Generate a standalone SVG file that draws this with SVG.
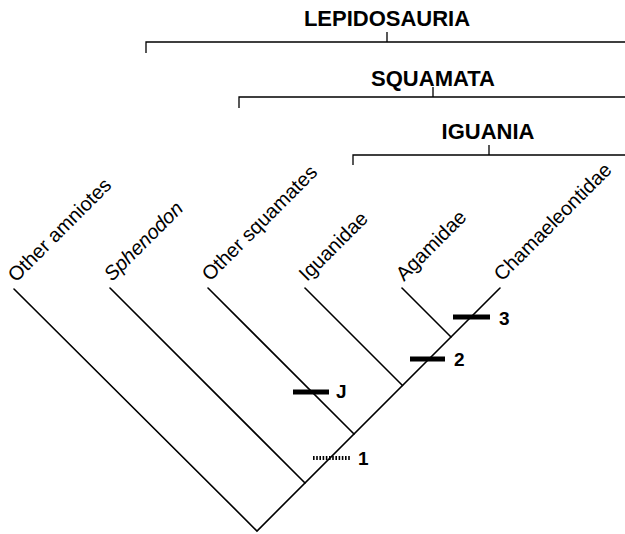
<svg xmlns="http://www.w3.org/2000/svg" width="625" height="534" viewBox="0 0 625 534">
<style>
.ln{stroke:#000;stroke-width:1.6;fill:none;stroke-linecap:round}
.br{stroke:#000;stroke-width:1.3;fill:none}
.bar{stroke:#000;stroke-width:5;fill:none}
.dot{stroke:#000;stroke-width:4;fill:none;stroke-dasharray:1.6 1.6}
.tip{font-family:"Liberation Sans",Arial,sans-serif;font-size:20px;fill:#000}
.hd{font-family:"Liberation Sans",Arial,sans-serif;font-size:22px;font-weight:bold;fill:#000;text-anchor:middle}
.num{font-family:"Liberation Sans",Arial,sans-serif;font-size:19px;font-weight:bold;fill:#000}
</style>
<rect width="625" height="534" fill="#fff"/>
<g id="brackets">
  <g id="lepidosauria">
    <path class="br" d="M146,53 V42 H625 M387,32 V42"/>
    <text class="hd" x="387" y="26">LEPIDOSAURIA</text>
  </g>
  <g id="squamata">
    <path class="br" d="M239,108 V97 H625 M433,87 V97"/>
    <text class="hd" x="433" y="86">SQUAMATA</text>
  </g>
  <g id="iguania">
    <path class="br" d="M353,165 V155 H625 M489,145 V155"/>
    <text class="hd" x="488" y="139">IGUANIA</text>
  </g>
</g>
<g id="connectors">
  <path class="ln" d="M14,289 L257,531 L500,288"/>
  <path class="ln" d="M110,288 L305,483"/>
  <path class="ln" d="M208,288 L354,434"/>
  <path class="ln" d="M305,288 L402.5,385.5"/>
  <path class="ln" d="M402,288 L451,337"/>
</g>
<g id="tips">
  <g id="other-amniotes"><text class="tip" transform="translate(16,283) rotate(-45)">Other amniotes</text></g>
  <g id="sphenodon"><text class="tip" font-style="italic" transform="translate(112,282) rotate(-45)">Sphenodon</text></g>
  <g id="other-squamates"><text class="tip" transform="translate(210,282) rotate(-45)">Other squamates</text></g>
  <g id="iguanidae"><text class="tip" transform="translate(307,282) rotate(-45)">Iguanidae</text></g>
  <g id="agamidae"><text class="tip" transform="translate(404,282) rotate(-45)">Agamidae</text></g>
  <g id="chamaeleontidae"><text class="tip" transform="translate(502,282) rotate(-45)">Chamaeleontidae</text></g>
</g>
<g id="characters">
  <g id="char-J"><path class="bar" d="M293,392 H329"/><text class="num" x="336" y="398">J</text></g>
  <g id="char-1"><path class="dot" d="M313,458 H350"/><text class="num" x="358" y="465">1</text></g>
  <g id="char-2"><path class="bar" d="M410,359 H445"/><text class="num" x="454" y="366">2</text></g>
  <g id="char-3"><path class="bar" d="M453,317 H490"/><text class="num" x="499" y="325">3</text></g>
</g>
</svg>
